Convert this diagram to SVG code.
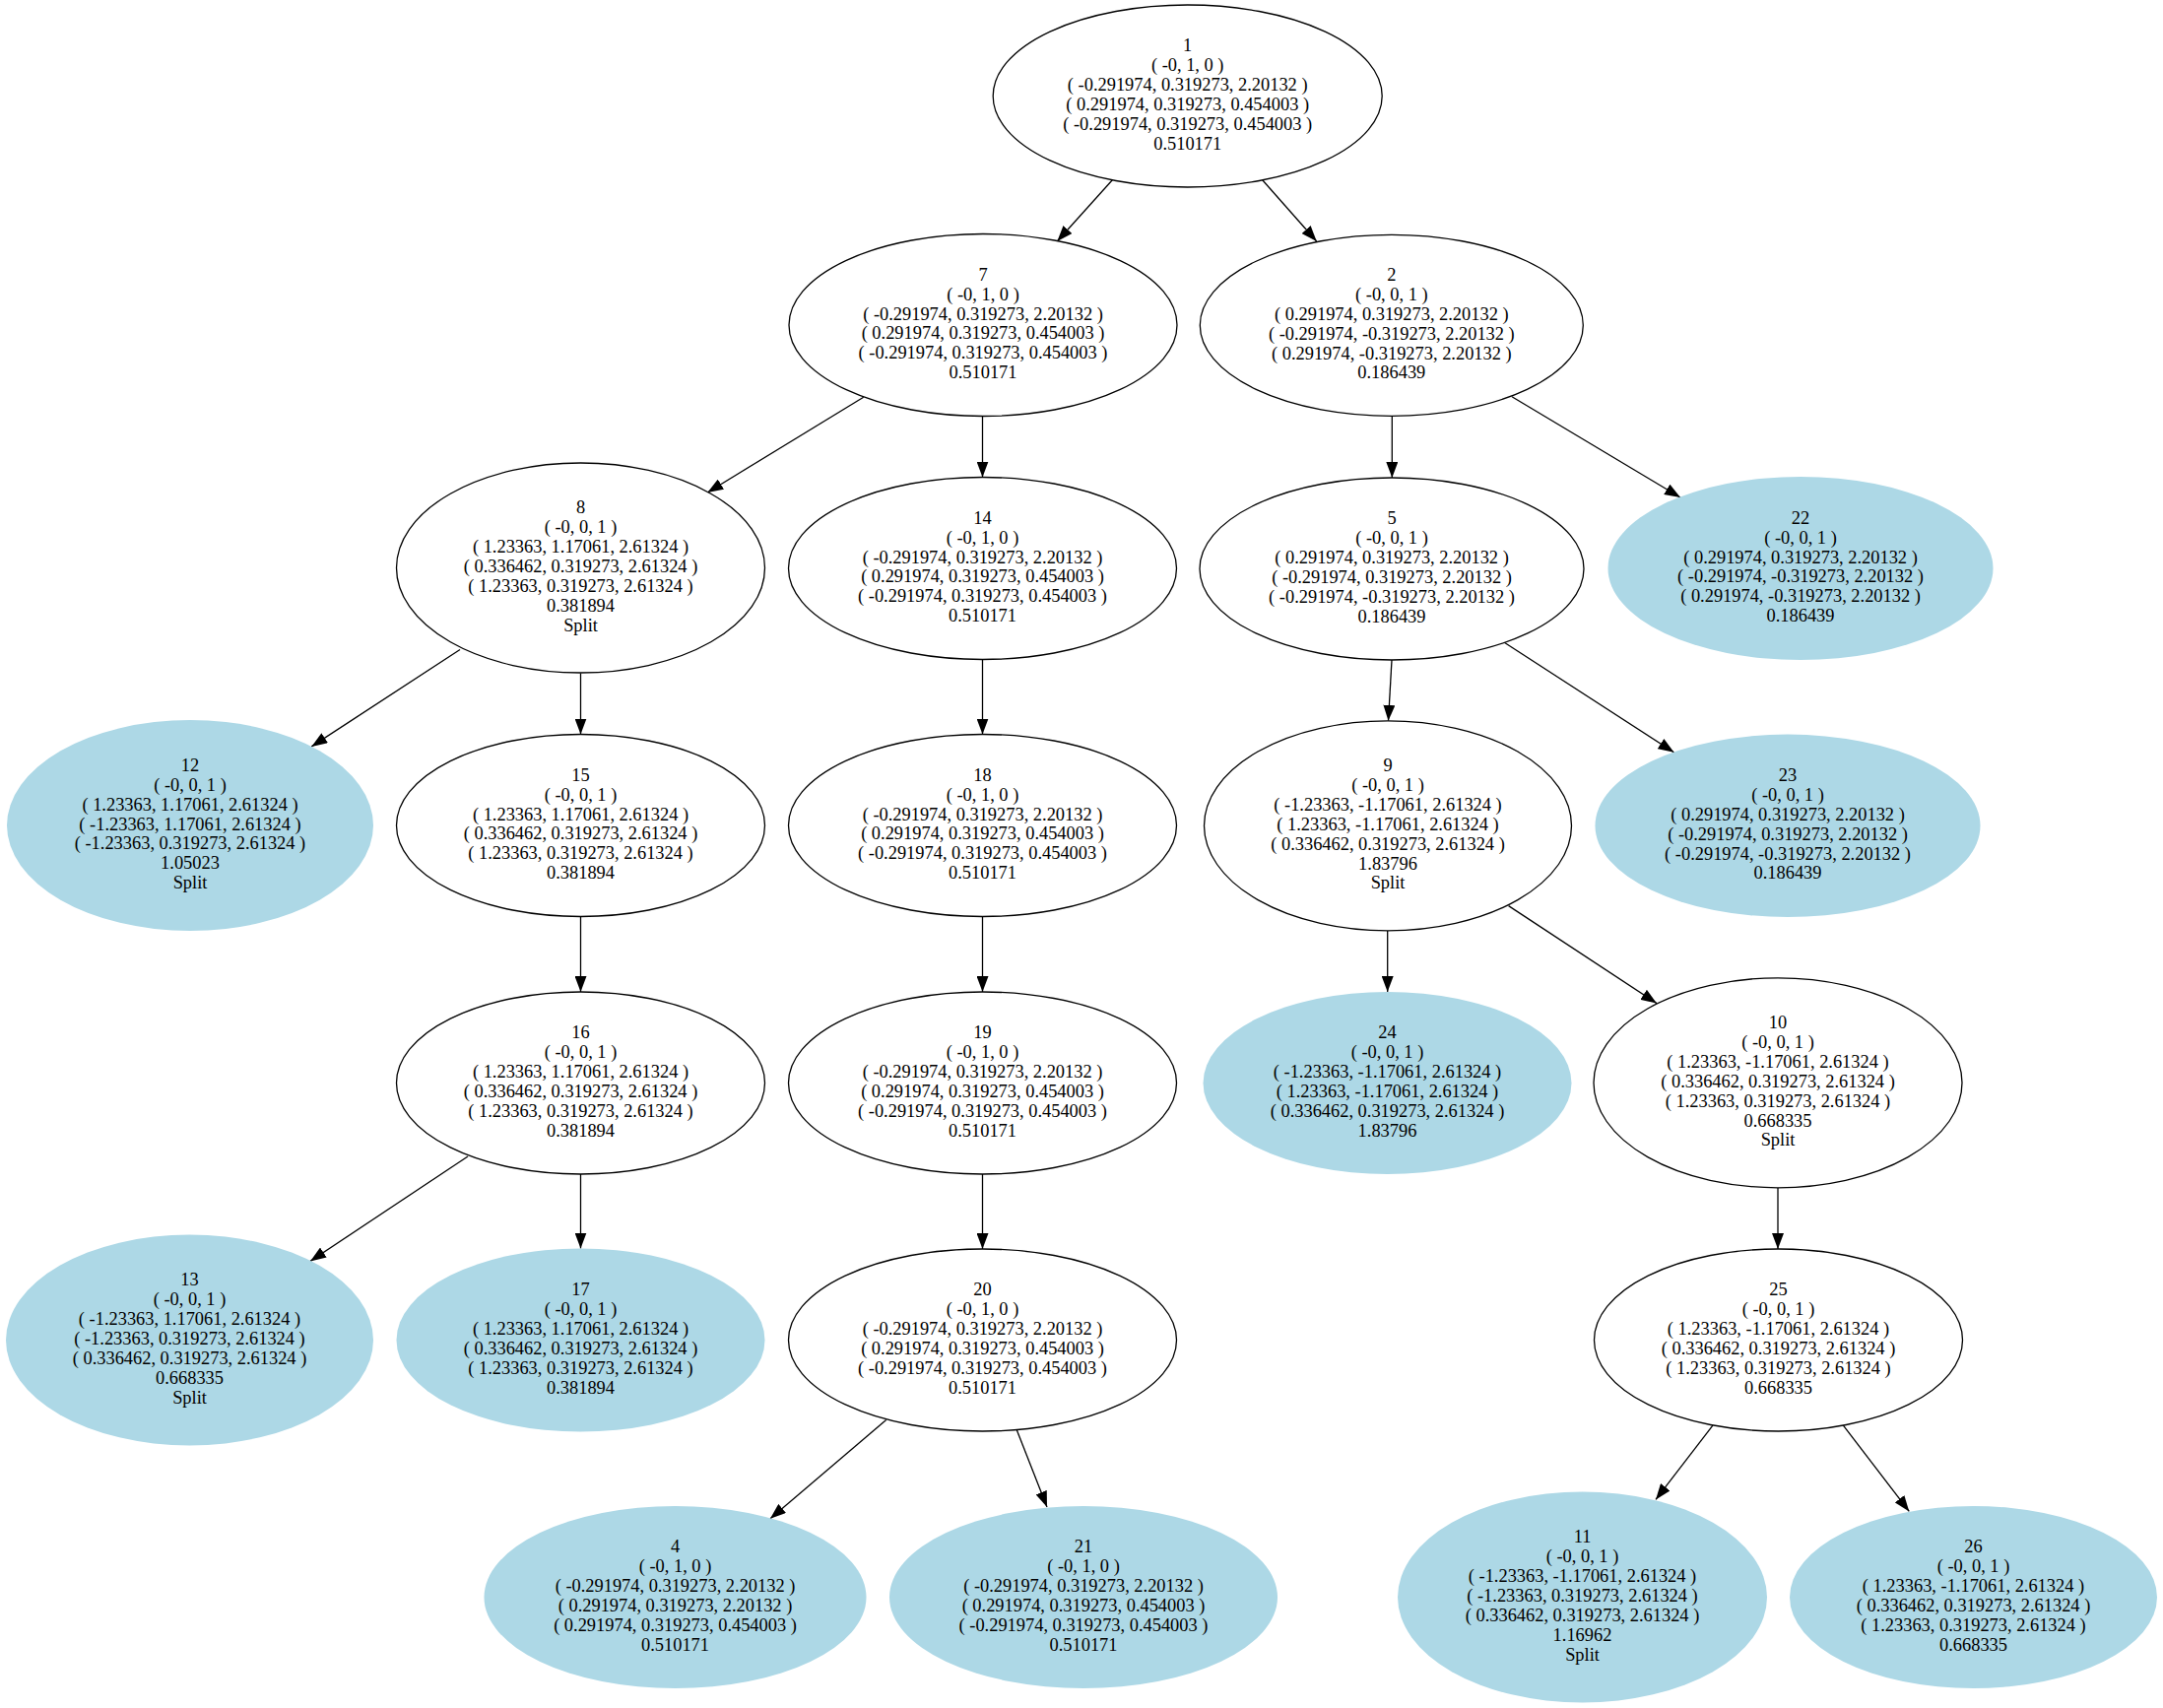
<svg xmlns="http://www.w3.org/2000/svg" width="2196" height="1734" viewBox="0 0 2196 1734">
<style>
.n ellipse{fill:#ffffff;stroke:#000;stroke-width:1.3}
.leaf ellipse{fill:#add8e6;stroke:none}
text{font-family:"Liberation Serif","Times New Roman",serif;font-size:18.4px;text-anchor:middle;fill:#000}
.e line{stroke:#000;stroke-width:1.3;marker-end:url(#arr)}
</style>
<defs>
<marker id="arr" viewBox="0 0 16 12" refX="16" refY="6" markerWidth="16" markerHeight="12" orient="auto" markerUnits="userSpaceOnUse"><path d="M0,0 L16,6 L0,12 z" fill="#000"/></marker>
</defs>
<rect width="2196" height="1734" fill="#fff"/>
<g id="edges" class="e">
<line x1="1129.3" y1="182.7" x2="1073.3" y2="245"/>
<line x1="1281.7" y1="182.7" x2="1336.7" y2="245"/>
<line x1="876.7" y1="403.3" x2="718.3" y2="500"/>
<line x1="997.5" y1="422.7" x2="997.5" y2="484.5"/>
<line x1="1413.3" y1="422.7" x2="1413.3" y2="485"/>
<line x1="1535" y1="402.7" x2="1706" y2="505"/>
<line x1="467" y1="659.5" x2="316.3" y2="757.9"/>
<line x1="589.5" y1="683.5" x2="589.5" y2="745.5"/>
<line x1="997.5" y1="669.5" x2="997.5" y2="745.5"/>
<line x1="1413" y1="670" x2="1409.5" y2="731.8"/>
<line x1="1526.5" y1="651.8" x2="1699.5" y2="763.8"/>
<line x1="589.5" y1="930.5" x2="589.5" y2="1007"/>
<line x1="997.5" y1="930.5" x2="997.5" y2="1007"/>
<line x1="1408.7" y1="945" x2="1408.7" y2="1007"/>
<line x1="1531.6" y1="919.6" x2="1682" y2="1018.6"/>
<line x1="475" y1="1174" x2="315" y2="1280.4"/>
<line x1="589.5" y1="1192" x2="589.5" y2="1267.5"/>
<line x1="997.5" y1="1192" x2="997.5" y2="1268"/>
<line x1="899.7" y1="1441.6" x2="782" y2="1541.8"/>
<line x1="1032.3" y1="1451.7" x2="1063" y2="1530"/>
<line x1="1805" y1="1205.9" x2="1805" y2="1268"/>
<line x1="1738.9" y1="1447.2" x2="1681" y2="1522.4"/>
<line x1="1871.4" y1="1447.2" x2="1938.3" y2="1534.4"/>
</g>
<g id="n1" class="n" transform="translate(1205.7,97.5)"><ellipse rx="197.5" ry="92.5"/><text><tspan x="0" y="-45.3">1</tspan><tspan x="0" y="-25.4">( -0, 1, 0 )</tspan><tspan x="0" y="-5.5">( -0.291974, 0.319273, 2.20132 )</tspan><tspan x="0" y="14.4">( 0.291974, 0.319273, 0.454003 )</tspan><tspan x="0" y="34.3">( -0.291974, 0.319273, 0.454003 )</tspan><tspan x="0" y="54.2">0.510171</tspan></text></g>
<g id="n7" class="n" transform="translate(998,330)"><ellipse rx="197" ry="92.5"/><text><tspan x="0" y="-45.3">7</tspan><tspan x="0" y="-25.4">( -0, 1, 0 )</tspan><tspan x="0" y="-5.5">( -0.291974, 0.319273, 2.20132 )</tspan><tspan x="0" y="14.4">( 0.291974, 0.319273, 0.454003 )</tspan><tspan x="0" y="34.3">( -0.291974, 0.319273, 0.454003 )</tspan><tspan x="0" y="54.2">0.510171</tspan></text></g>
<g id="n2" class="n" transform="translate(1412.8,330.3)"><ellipse rx="194.5" ry="92"/><text><tspan x="0" y="-45.3">2</tspan><tspan x="0" y="-25.4">( -0, 0, 1 )</tspan><tspan x="0" y="-5.5">( 0.291974, 0.319273, 2.20132 )</tspan><tspan x="0" y="14.4">( -0.291974, -0.319273, 2.20132 )</tspan><tspan x="0" y="34.3">( 0.291974, -0.319273, 2.20132 )</tspan><tspan x="0" y="54.2">0.186439</tspan></text></g>
<g id="n8" class="n" transform="translate(589.5,576.5)"><ellipse rx="187" ry="106.5"/><text><tspan x="0" y="-55.2">8</tspan><tspan x="0" y="-35.3">( -0, 0, 1 )</tspan><tspan x="0" y="-15.4">( 1.23363, 1.17061, 2.61324 )</tspan><tspan x="0" y="4.5">( 0.336462, 0.319273, 2.61324 )</tspan><tspan x="0" y="24.4">( 1.23363, 0.319273, 2.61324 )</tspan><tspan x="0" y="44.3">0.381894</tspan><tspan x="0" y="64.2">Split</tspan></text></g>
<g id="n14" class="n" transform="translate(997.5,577)"><ellipse rx="197" ry="92.5"/><text><tspan x="0" y="-45.3">14</tspan><tspan x="0" y="-25.4">( -0, 1, 0 )</tspan><tspan x="0" y="-5.5">( -0.291974, 0.319273, 2.20132 )</tspan><tspan x="0" y="14.4">( 0.291974, 0.319273, 0.454003 )</tspan><tspan x="0" y="34.3">( -0.291974, 0.319273, 0.454003 )</tspan><tspan x="0" y="54.2">0.510171</tspan></text></g>
<g id="n5" class="n" transform="translate(1413,577.5)"><ellipse rx="195" ry="92.5"/><text><tspan x="0" y="-45.3">5</tspan><tspan x="0" y="-25.4">( -0, 0, 1 )</tspan><tspan x="0" y="-5.5">( 0.291974, 0.319273, 2.20132 )</tspan><tspan x="0" y="14.4">( -0.291974, 0.319273, 2.20132 )</tspan><tspan x="0" y="34.3">( -0.291974, -0.319273, 2.20132 )</tspan><tspan x="0" y="54.2">0.186439</tspan></text></g>
<g id="n22" class="n leaf" transform="translate(1828,577)"><ellipse rx="195.5" ry="93"/><text><tspan x="0" y="-45.3">22</tspan><tspan x="0" y="-25.4">( -0, 0, 1 )</tspan><tspan x="0" y="-5.5">( 0.291974, 0.319273, 2.20132 )</tspan><tspan x="0" y="14.4">( -0.291974, -0.319273, 2.20132 )</tspan><tspan x="0" y="34.3">( 0.291974, -0.319273, 2.20132 )</tspan><tspan x="0" y="54.2">0.186439</tspan></text></g>
<g id="n12" class="n leaf" transform="translate(193,838)"><ellipse rx="186" ry="107"/><text><tspan x="0" y="-55.2">12</tspan><tspan x="0" y="-35.3">( -0, 0, 1 )</tspan><tspan x="0" y="-15.4">( 1.23363, 1.17061, 2.61324 )</tspan><tspan x="0" y="4.5">( -1.23363, 1.17061, 2.61324 )</tspan><tspan x="0" y="24.4">( -1.23363, 0.319273, 2.61324 )</tspan><tspan x="0" y="44.3">1.05023</tspan><tspan x="0" y="64.2">Split</tspan></text></g>
<g id="n15" class="n" transform="translate(589.5,838)"><ellipse rx="187" ry="92.5"/><text><tspan x="0" y="-45.3">15</tspan><tspan x="0" y="-25.4">( -0, 0, 1 )</tspan><tspan x="0" y="-5.5">( 1.23363, 1.17061, 2.61324 )</tspan><tspan x="0" y="14.4">( 0.336462, 0.319273, 2.61324 )</tspan><tspan x="0" y="34.3">( 1.23363, 0.319273, 2.61324 )</tspan><tspan x="0" y="54.2">0.381894</tspan></text></g>
<g id="n18" class="n" transform="translate(997.5,838)"><ellipse rx="197" ry="92.5"/><text><tspan x="0" y="-45.3">18</tspan><tspan x="0" y="-25.4">( -0, 1, 0 )</tspan><tspan x="0" y="-5.5">( -0.291974, 0.319273, 2.20132 )</tspan><tspan x="0" y="14.4">( 0.291974, 0.319273, 0.454003 )</tspan><tspan x="0" y="34.3">( -0.291974, 0.319273, 0.454003 )</tspan><tspan x="0" y="54.2">0.510171</tspan></text></g>
<g id="n9" class="n" transform="translate(1409,838.3)"><ellipse rx="186.5" ry="106.5"/><text><tspan x="0" y="-55.2">9</tspan><tspan x="0" y="-35.3">( -0, 0, 1 )</tspan><tspan x="0" y="-15.4">( -1.23363, -1.17061, 2.61324 )</tspan><tspan x="0" y="4.5">( 1.23363, -1.17061, 2.61324 )</tspan><tspan x="0" y="24.4">( 0.336462, 0.319273, 2.61324 )</tspan><tspan x="0" y="44.3">1.83796</tspan><tspan x="0" y="64.2">Split</tspan></text></g>
<g id="n23" class="n leaf" transform="translate(1815,838.3)"><ellipse rx="195.5" ry="92.7"/><text><tspan x="0" y="-45.3">23</tspan><tspan x="0" y="-25.4">( -0, 0, 1 )</tspan><tspan x="0" y="-5.5">( 0.291974, 0.319273, 2.20132 )</tspan><tspan x="0" y="14.4">( -0.291974, 0.319273, 2.20132 )</tspan><tspan x="0" y="34.3">( -0.291974, -0.319273, 2.20132 )</tspan><tspan x="0" y="54.2">0.186439</tspan></text></g>
<g id="n16" class="n" transform="translate(589.5,1099.5)"><ellipse rx="187" ry="92.5"/><text><tspan x="0" y="-45.3">16</tspan><tspan x="0" y="-25.4">( -0, 0, 1 )</tspan><tspan x="0" y="-5.5">( 1.23363, 1.17061, 2.61324 )</tspan><tspan x="0" y="14.4">( 0.336462, 0.319273, 2.61324 )</tspan><tspan x="0" y="34.3">( 1.23363, 0.319273, 2.61324 )</tspan><tspan x="0" y="54.2">0.381894</tspan></text></g>
<g id="n19" class="n" transform="translate(997.5,1099.5)"><ellipse rx="197" ry="92.5"/><text><tspan x="0" y="-45.3">19</tspan><tspan x="0" y="-25.4">( -0, 1, 0 )</tspan><tspan x="0" y="-5.5">( -0.291974, 0.319273, 2.20132 )</tspan><tspan x="0" y="14.4">( 0.291974, 0.319273, 0.454003 )</tspan><tspan x="0" y="34.3">( -0.291974, 0.319273, 0.454003 )</tspan><tspan x="0" y="54.2">0.510171</tspan></text></g>
<g id="n24" class="n leaf" transform="translate(1408.5,1099.5)"><ellipse rx="187" ry="92.5"/><text><tspan x="0" y="-45.3">24</tspan><tspan x="0" y="-25.4">( -0, 0, 1 )</tspan><tspan x="0" y="-5.5">( -1.23363, -1.17061, 2.61324 )</tspan><tspan x="0" y="14.4">( 1.23363, -1.17061, 2.61324 )</tspan><tspan x="0" y="34.3">( 0.336462, 0.319273, 2.61324 )</tspan><tspan x="0" y="54.2">1.83796</tspan></text></g>
<g id="n10" class="n" transform="translate(1805,1099.3)"><ellipse rx="187" ry="106.5"/><text><tspan x="0" y="-55.2">10</tspan><tspan x="0" y="-35.3">( -0, 0, 1 )</tspan><tspan x="0" y="-15.4">( 1.23363, -1.17061, 2.61324 )</tspan><tspan x="0" y="4.5">( 0.336462, 0.319273, 2.61324 )</tspan><tspan x="0" y="24.4">( 1.23363, 0.319273, 2.61324 )</tspan><tspan x="0" y="44.3">0.668335</tspan><tspan x="0" y="64.2">Split</tspan></text></g>
<g id="n13" class="n leaf" transform="translate(192.5,1360.5)"><ellipse rx="186.5" ry="107"/><text><tspan x="0" y="-55.2">13</tspan><tspan x="0" y="-35.3">( -0, 0, 1 )</tspan><tspan x="0" y="-15.4">( -1.23363, 1.17061, 2.61324 )</tspan><tspan x="0" y="4.5">( -1.23363, 0.319273, 2.61324 )</tspan><tspan x="0" y="24.4">( 0.336462, 0.319273, 2.61324 )</tspan><tspan x="0" y="44.3">0.668335</tspan><tspan x="0" y="64.2">Split</tspan></text></g>
<g id="n17" class="n leaf" transform="translate(589.5,1360.5)"><ellipse rx="187" ry="93"/><text><tspan x="0" y="-45.3">17</tspan><tspan x="0" y="-25.4">( -0, 0, 1 )</tspan><tspan x="0" y="-5.5">( 1.23363, 1.17061, 2.61324 )</tspan><tspan x="0" y="14.4">( 0.336462, 0.319273, 2.61324 )</tspan><tspan x="0" y="34.3">( 1.23363, 0.319273, 2.61324 )</tspan><tspan x="0" y="54.2">0.381894</tspan></text></g>
<g id="n20" class="n" transform="translate(997.5,1360.5)"><ellipse rx="197" ry="92.5"/><text><tspan x="0" y="-45.3">20</tspan><tspan x="0" y="-25.4">( -0, 1, 0 )</tspan><tspan x="0" y="-5.5">( -0.291974, 0.319273, 2.20132 )</tspan><tspan x="0" y="14.4">( 0.291974, 0.319273, 0.454003 )</tspan><tspan x="0" y="34.3">( -0.291974, 0.319273, 0.454003 )</tspan><tspan x="0" y="54.2">0.510171</tspan></text></g>
<g id="n25" class="n" transform="translate(1805.5,1360.5)"><ellipse rx="187" ry="92.5"/><text><tspan x="0" y="-45.3">25</tspan><tspan x="0" y="-25.4">( -0, 0, 1 )</tspan><tspan x="0" y="-5.5">( 1.23363, -1.17061, 2.61324 )</tspan><tspan x="0" y="14.4">( 0.336462, 0.319273, 2.61324 )</tspan><tspan x="0" y="34.3">( 1.23363, 0.319273, 2.61324 )</tspan><tspan x="0" y="54.2">0.668335</tspan></text></g>
<g id="n4" class="n leaf" transform="translate(685.5,1621.5)"><ellipse rx="194" ry="92.5"/><text><tspan x="0" y="-45.3">4</tspan><tspan x="0" y="-25.4">( -0, 1, 0 )</tspan><tspan x="0" y="-5.5">( -0.291974, 0.319273, 2.20132 )</tspan><tspan x="0" y="14.4">( 0.291974, 0.319273, 2.20132 )</tspan><tspan x="0" y="34.3">( 0.291974, 0.319273, 0.454003 )</tspan><tspan x="0" y="54.2">0.510171</tspan></text></g>
<g id="n21" class="n leaf" transform="translate(1100,1621.5)"><ellipse rx="197" ry="92.5"/><text><tspan x="0" y="-45.3">21</tspan><tspan x="0" y="-25.4">( -0, 1, 0 )</tspan><tspan x="0" y="-5.5">( -0.291974, 0.319273, 2.20132 )</tspan><tspan x="0" y="14.4">( 0.291974, 0.319273, 0.454003 )</tspan><tspan x="0" y="34.3">( -0.291974, 0.319273, 0.454003 )</tspan><tspan x="0" y="54.2">0.510171</tspan></text></g>
<g id="n11" class="n leaf" transform="translate(1606.5,1621.5)"><ellipse rx="187.5" ry="107"/><text><tspan x="0" y="-55.2">11</tspan><tspan x="0" y="-35.3">( -0, 0, 1 )</tspan><tspan x="0" y="-15.4">( -1.23363, -1.17061, 2.61324 )</tspan><tspan x="0" y="4.5">( -1.23363, 0.319273, 2.61324 )</tspan><tspan x="0" y="24.4">( 0.336462, 0.319273, 2.61324 )</tspan><tspan x="0" y="44.3">1.16962</tspan><tspan x="0" y="64.2">Split</tspan></text></g>
<g id="n26" class="n leaf" transform="translate(2003.5,1621.5)"><ellipse rx="186.5" ry="92.5"/><text><tspan x="0" y="-45.3">26</tspan><tspan x="0" y="-25.4">( -0, 0, 1 )</tspan><tspan x="0" y="-5.5">( 1.23363, -1.17061, 2.61324 )</tspan><tspan x="0" y="14.4">( 0.336462, 0.319273, 2.61324 )</tspan><tspan x="0" y="34.3">( 1.23363, 0.319273, 2.61324 )</tspan><tspan x="0" y="54.2">0.668335</tspan></text></g>
</svg>
